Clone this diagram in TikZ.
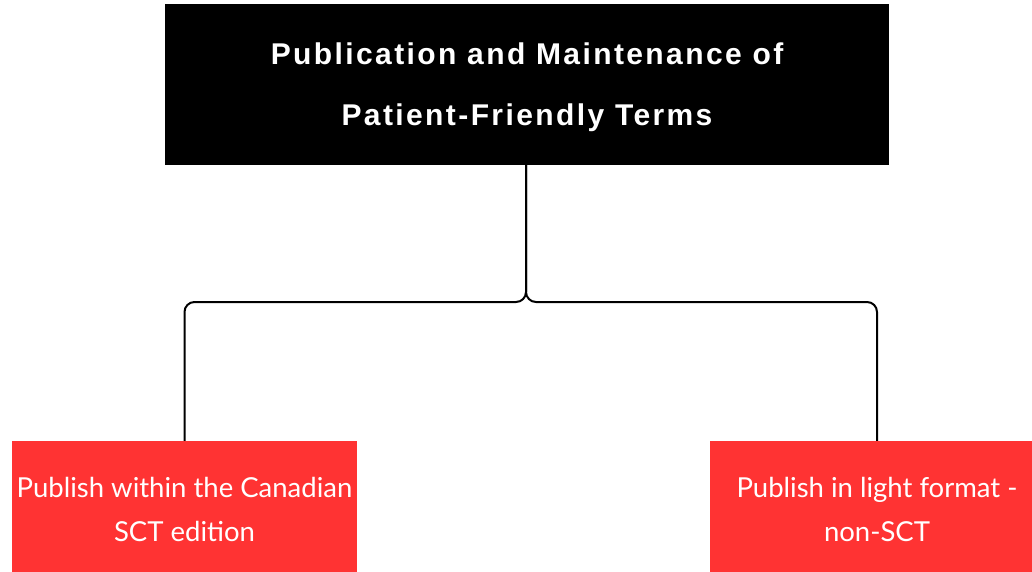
\documentclass[tikz,border=0pt]{standalone}
\usepackage{fontspec}
\newfontfamily\headfont[LetterSpace=8]{Liberation Sans}
\newfontfamily\boxfont{Lato}
\definecolor{boxred}{RGB}{255,51,51}
\tikzset{
  headbox/.style={fill=black, text=white, minimum width=724pt, minimum height=161pt, align=center, inner sep=0pt,
    font=\headfont\bfseries\fontsize{30}{61}\selectfont},
  redbox/.style={fill=boxred, text=white, minimum height=136pt, align=center, inner sep=0pt,
    font=\boxfont\fontsize{27.5}{44}\selectfont},
  conn/.style={draw=black, line width=2pt, rounded corners=10pt}
}
\begin{document}
\begin{tikzpicture}[x=1pt,y=1pt]
\useasboundingbox (0,0) rectangle (1032,-572);
\clip (0,0) rectangle (1032,-572);
\fill[white] (0,0) rectangle (1032,-572);
\node[headbox] (top) at (527,-84.5) {};
\node[text=white, align=center, font=\headfont\bfseries\fontsize{30}{61}\selectfont] (toptext) at (527,-87) {Publication and Maintenance of\\Patient-Friendly Terms};
\node[redbox, minimum width=345pt] (left) at (184.5,-509) {Publish within the Canadian\\SCT edition};
\node[redbox, minimum width=334pt] (right) at (877,-509) {Publish in light format -\\non-SCT};
\coordinate (junc) at (526,-302);
\draw[conn] (top.south -| junc) -- (junc) -| (left.north);
\draw[conn] (top.south -| junc) -- (junc) -| (right.north);
\end{tikzpicture}
\end{document}
